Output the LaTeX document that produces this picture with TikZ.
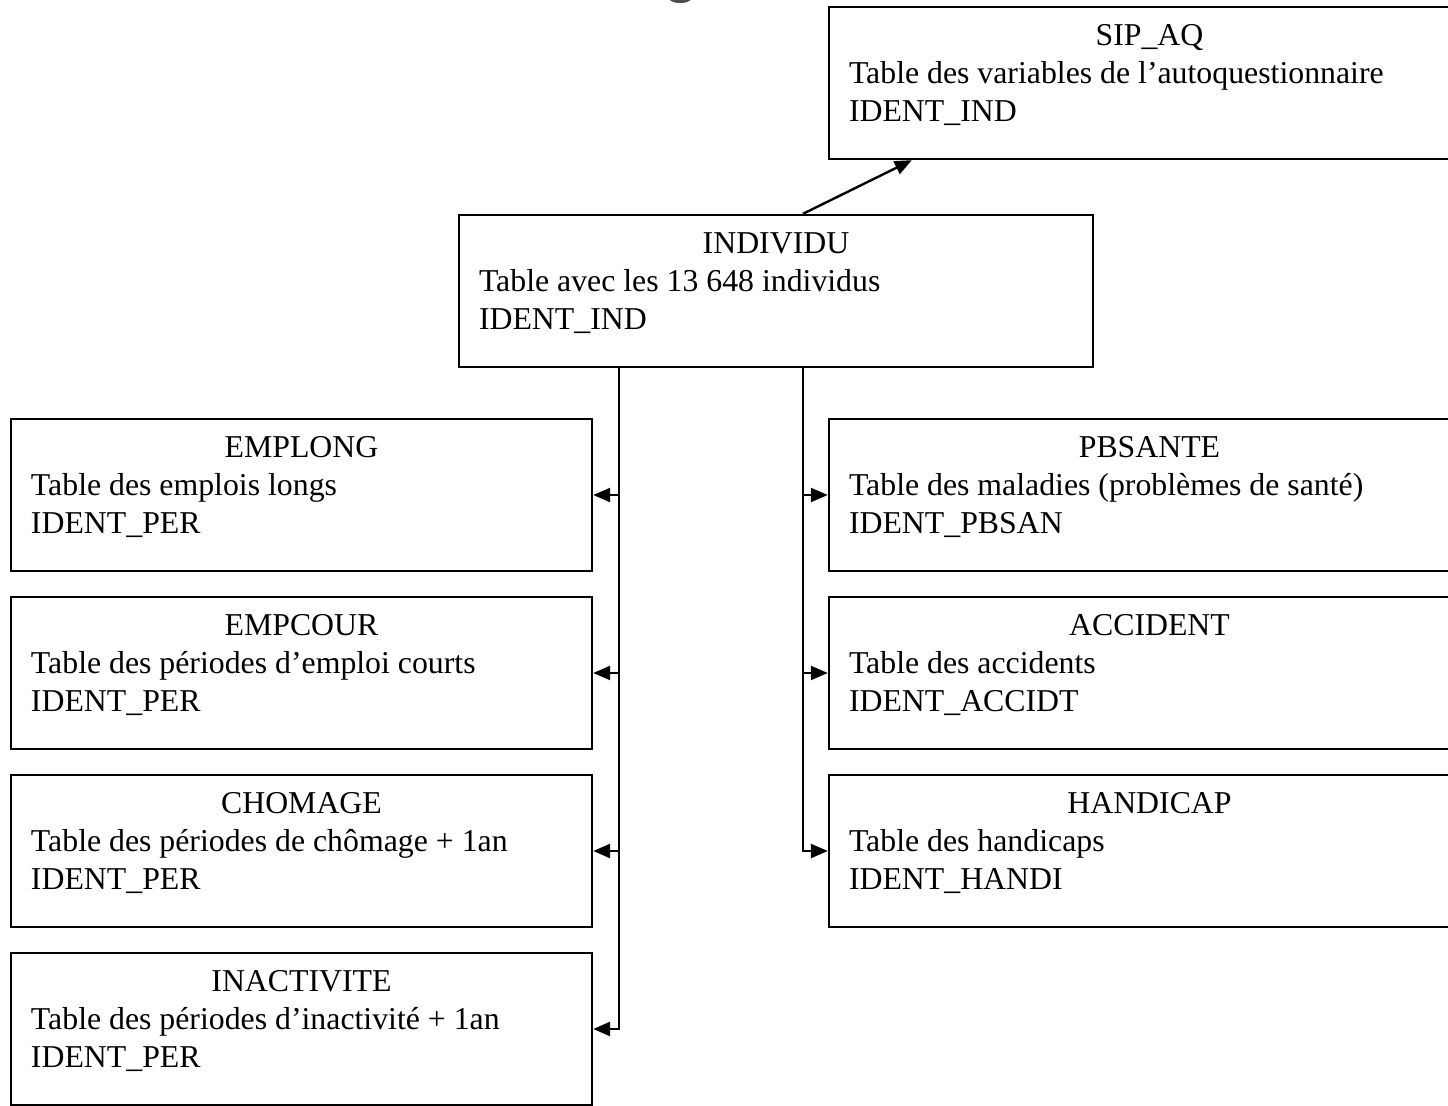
\documentclass[tikz,border=0pt]{standalone}
\usepackage{fontspec}
\setmainfont{Liberation Serif}
\newfontfamily\headfont{Liberation Sans}
\usetikzlibrary{arrows.meta,calc}

\begin{document}
\begin{tikzpicture}[x=0.5pt,y=-0.5pt,line width=1.2pt,
    font=\fontsize{15.9}{19}\selectfont,
    tblbox/.style={draw,inner sep=0pt,minimum height=76pt},
    ttl/.style={anchor=base,inner sep=0pt},
    txt/.style={anchor=base west,inner sep=0pt},
    arr/.style={-{Triangle[length=8.5pt,width=7pt]}}]
    \useasboundingbox (0,0) rectangle (1448,1106);
    \node[anchor=base,text=black!70,font=\headfont\fontsize{34}{40}\selectfont] (head) at (681,-10) {g};

    % table centrale et autoquestionnaire
    \node[tblbox,minimum width=317pt] (ind) at (776,291) {};
    \node[ttl] (ind-t) at ($(ind.north)+(0,40)$) {INDIVIDU};
    \node[txt] (ind-a) at ($(ind.north west)+(20,78)$) {Table avec les 13 648 individus};
    \node[txt] (ind-b) at ($(ind.north west)+(20,116)$) {IDENT\_IND};

    \node[tblbox,minimum width=320.5pt] (sipaq) at (1149.5,83) {};
    \node[ttl] (sipaq-t) at ($(sipaq.north)+(0,40)$) {SIP\_AQ};
    \node[txt] (sipaq-a) at ($(sipaq.north west)+(20,78)$) {Table des variables de l’autoquestionnaire};
    \node[txt] (sipaq-b) at ($(sipaq.north west)+(20,116)$) {IDENT\_IND};

    % tables de periodes (gauche)
    \foreach \nm/\ytop/\ttl/\la/\lb in {
        emplong/419/EMPLONG/Table des emplois longs/IDENT\_PER,
        empcour/597/EMPCOUR/Table des périodes d’emploi courts/IDENT\_PER,
        chomage/775/CHOMAGE/Table des périodes de chômage + 1an/IDENT\_PER,
        inact/953/INACTIVITE/Table des périodes d’inactivité + 1an/IDENT\_PER} {
        \node[tblbox,minimum width=290.5pt] (\nm) at (301.5,\ytop+76) {};
        \node[ttl] (\nm-t) at ($(\nm.north)+(0,40)$) {\ttl};
        \node[txt] (\nm-a) at ($(\nm.north west)+(20,78)$) {\la};
        \node[txt] (\nm-b) at ($(\nm.north west)+(20,116)$) {\lb};
    }

    % tables de sante (droite)
    \foreach \nm/\ytop/\ttl/\la/\lb in {
        pbsante/419/PBSANTE/Table des maladies (problèmes de santé)/IDENT\_PBSAN,
        accident/597/ACCIDENT/Table des accidents/IDENT\_ACCIDT,
        handicap/775/HANDICAP/Table des handicaps/IDENT\_HANDI} {
        \node[tblbox,minimum width=320.5pt] (\nm) at (1149.5,\ytop+76) {};
        \node[ttl] (\nm-t) at ($(\nm.north)+(0,40)$) {\ttl};
        \node[txt] (\nm-a) at ($(\nm.north west)+(20,78)$) {\la};
        \node[txt] (\nm-b) at ($(\nm.north west)+(20,116)$) {\lb};
    }

    % liens
    \draw[arr] ($(ind.north)+(27,0)$) -- ($(sipaq.south west)+(84,0)$);
    \coordinate (trunkL) at ($(ind.south west)+(161,0)$);
    \coordinate (trunkR) at ($(ind.south)+(27,0)$);
    \foreach \nm in {emplong,empcour,chomage,inact}
        \draw[arr] (trunkL) |- (\nm.east);
    \foreach \nm in {pbsante,accident,handicap}
        \draw[arr] (trunkR) |- (\nm.west);
\end{tikzpicture}
\end{document}
